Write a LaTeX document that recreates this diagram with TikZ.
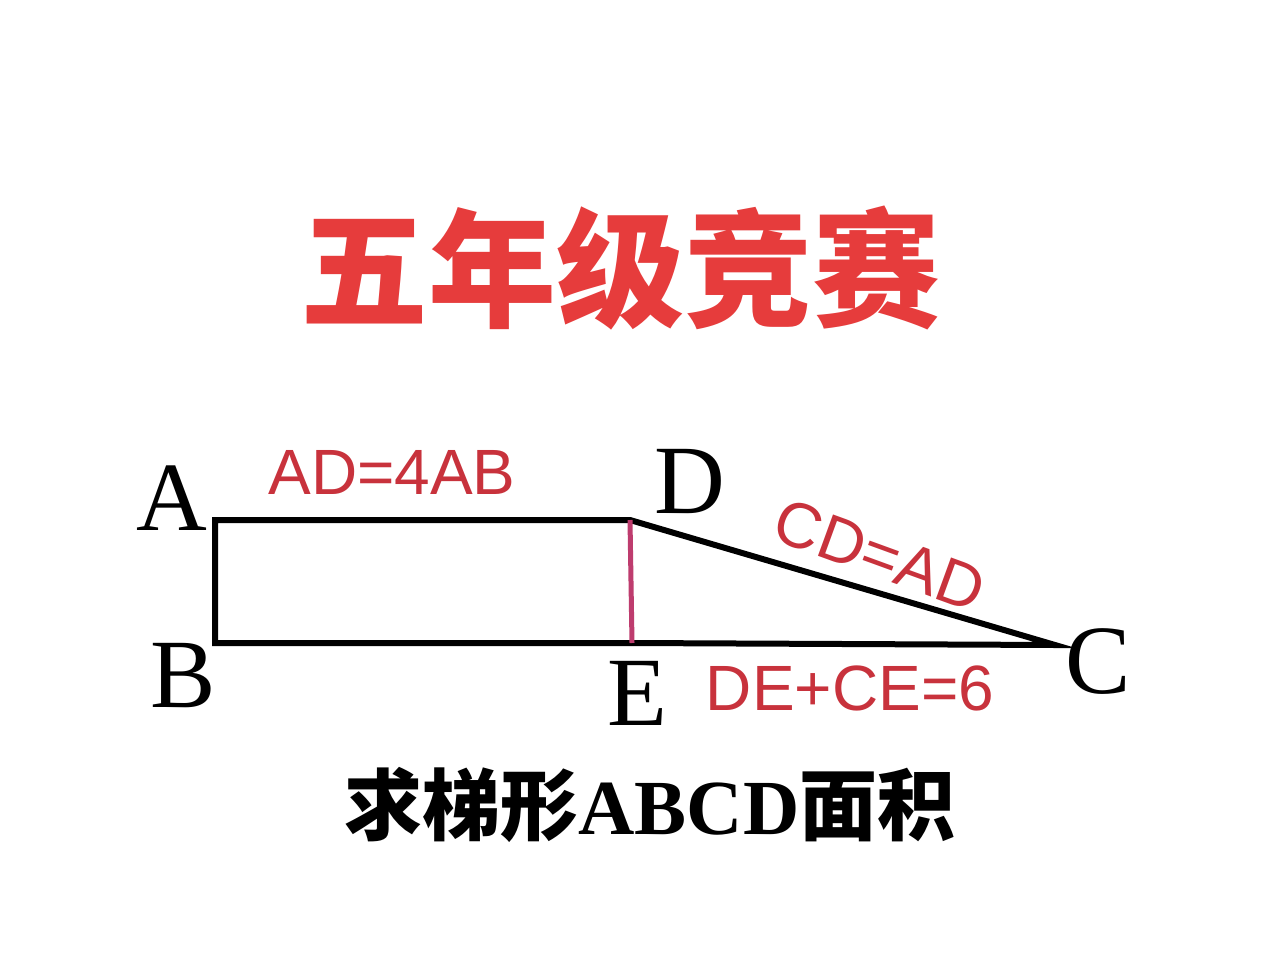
\documentclass[tikz,border=0pt]{standalone}
\usepackage{fontspec}
\setmainfont{Liberation Serif}
\newfontfamily\cjk{Noto Sans CJK SC}
\newfontfamily\lsans{Liberation Sans}
\definecolor{tred}{RGB}{230,60,60}
\definecolor{lred}{RGB}{200,50,60}
\definecolor{pk}{RGB}{190,60,110}
\begin{document}
\begin{tikzpicture}[x=1pt,y=-1pt,
 pt/.style={font=\fontsize{98}{98}\selectfont},
 rl/.style={text=lred,font=\lsans\fontsize{64}{64}\selectfont}]
\useasboundingbox (0,0) rectangle (1280,969);
\fill[white] (0,0) rectangle (1280,969);
\coordinate (A) at (215,520);\coordinate (D) at (630,520);
\coordinate (B) at (215,643);\coordinate (E) at (632,643);
\coordinate (C) at (1055,645);
\draw[line width=6pt] (D)--(A)--(B)--(E)--(C)--cycle;
\draw[pk,line width=5pt] (D)--(E);
\node[text=tred,font=\cjk\bfseries\fontsize{128}{128}\selectfont] (t) at (620,268) {五年级竞赛};
\node[font=\cjk\bfseries\fontsize{78}{78}\selectfont] (q) at (650,805) {求梯形\textrm{\bfseries ABCD}面积};
\node[pt] (la) at (172,498) {A};
\node[pt] (ld) at (690,482) {D};
\node[pt] (lb) at (183,676) {B};
\node[pt] (le) at (637,693) {E};
\node[pt] (lc) at (1098,662) {C};
\node[rl] (l1) at (392,472) {AD=4AB};
\node[rl,rotate=-20,inner sep=0pt] (l2) at (880,555) {CD=AD};
\node[rl] (l3) at (850,688) {DE+CE=6};
\end{tikzpicture}
\end{document}
